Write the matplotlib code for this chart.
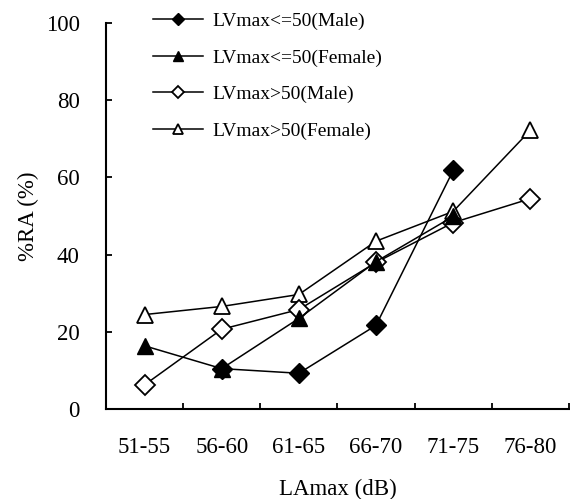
import numpy as np
import matplotlib
matplotlib.use("Agg")
import matplotlib.pyplot as plt

plt.rcParams['font.family'] = ['Liberation Serif', 'DejaVu Serif']

# categories and series
groups = ['51-55', '56-60', '61-65', '66-70', '71-75', '76-80']
low_male = [np.nan, 10.5, 9.3, 21.7, 61.8, np.nan]
low_female = [16.4, 10.5, 23.5, 38.2, 49.9, np.nan]
high_male = [6.3, 20.7, 25.8, 38.0, 48.3, 54.5]
high_female = [24.5, 26.6, 29.7, 43.5, 51.2, 72.2]

fig = plt.figure(figsize=(5.70, 4.99), dpi=100)
ax = fig.add_axes([0.186, 0.180, 0.812, 0.774])

xs = np.arange(len(groups)) + 0.5
lw = 1.1
ax.plot(xs, high_female, color='black', lw=lw, marker='^', ms=11.5, mfc='white', mec='black', mew=1.3,
        label='LVmax>50(Female)', zorder=3)
ax.plot(xs, high_male, color='black', lw=lw, marker='D', ms=10, mfc='white', mec='black', mew=1.3,
        label='LVmax>50(Male)', zorder=3)
ax.plot(xs, low_female, color='black', lw=lw, marker='^', ms=12, mfc='black', mec='black',
        label='LVmax<=50(Female)', zorder=4)
ax.plot(xs, low_male, color='black', lw=lw, marker='D', ms=10, mfc='black', mec='black',
        label='LVmax<=50(Male)', zorder=5)

ax.set_xlim(0, len(groups))
ax.set_ylim(0, 100)
ax.set_xticks(np.arange(len(groups) + 1))
ax.set_xticklabels([])
ax.set_xticks(xs, minor=True)
ax.set_xticklabels(groups, minor=True, fontsize=16.5)
ax.tick_params(axis='x', which='major', direction='in', length=4.5, width=1.3)
ax.tick_params(axis='x', which='minor', length=0, pad=20)
ax.set_yticks([0, 20, 40, 60, 80, 100])
ax.tick_params(axis='y', direction='in', length=4.5, width=1.3, pad=19, labelsize=16.5)

for s in ['top', 'right']:
    ax.spines[s].set_visible(False)
for s in ['left', 'bottom']:
    ax.spines[s].set_linewidth(1.5)

ax.set_xlabel('LAmax (dB)', fontsize=16.5, labelpad=15)
ax.set_ylabel('%RA (%)', fontsize=16.5, labelpad=5)

handles, labels = ax.get_legend_handles_labels()
order = [3, 2, 1, 0]
fig.legend([handles[i] for i in order], [labels[i] for i in order],
           loc='upper left', bbox_to_anchor=(0.268, 0.975), frameon=False,
           fontsize=14, markerscale=0.6, handlelength=2.6, handletextpad=0.45,
           labelspacing=0.97, borderpad=0, borderaxespad=0)

fig.savefig('out.png', dpi=100)
